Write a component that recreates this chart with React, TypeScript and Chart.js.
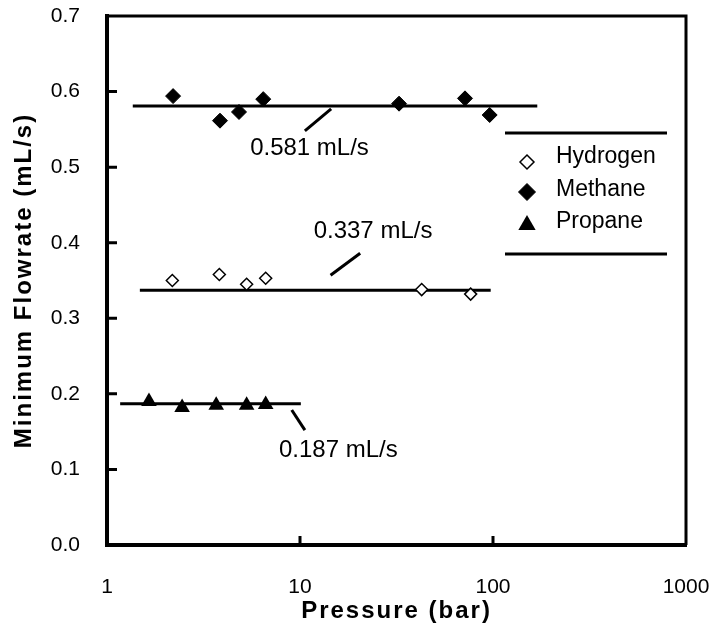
import React, { useEffect, useRef } from 'react';
import { Chart, registerables } from 'chart.js';

Chart.register(...registerables);

const FONT = '"Liberation Sans", Arial, Helvetica, sans-serif';

// ---- data ----
const xTickValues = [1, 10, 100, 1000];
const yTickValues = [0, 0.1, 0.2, 0.3, 0.4, 0.5, 0.6, 0.7];

const seriesLabels = ['Hydrogen', 'Methane', 'Propane'];

const hydrogenP = [2.18, 3.82, 5.29, 6.64, 42.7, 76.6];
const hydrogenQ = [0.35, 0.358, 0.345, 0.353, 0.338, 0.332];

const methaneP = [2.2, 3.85, 4.83, 6.45, 32.6, 71.6, 96.1];
const methaneQ = [0.594, 0.5615, 0.573, 0.59, 0.584, 0.591, 0.569];

const propaneP = [1.65, 2.45, 3.68, 5.29, 6.64];
const propaneQ = [0.19, 0.182, 0.185, 0.185, 0.186];

// mean lines (hydrogen, methane, propane)
const fitValues = [0.337, 0.581, 0.187];
const fitStart = [1.48, 1.36, 1.17];
const fitEnd = [97.3, 169.6, 10.1];

// annotations
const noteLabels = ['0.581 mL/s', '0.337 mL/s', '0.187 mL/s'];
const noteTextX = [11.2, 23.9, 15.8];
const noteTextY = [0.525, 0.4146, 0.1257];
const leaderFromX = [10.6, 14.4, 9.06];
const leaderFromY = [0.548, 0.357, 0.1786];
const leaderToX = [14.5, 20.5, 10.6];
const leaderToY = [0.577, 0.386, 0.152];

function toPoints(xs: number[], ys: number[]) {
  return xs.map((x, i) => ({ x, y: ys[i] }));
}

function drawMarker(
  ctx: CanvasRenderingContext2D,
  style: string,
  x: number,
  y: number,
  r: number,
  fill: string,
  stroke: string,
  lw: number
) {
  ctx.beginPath();
  if (style === 'triangle') {
    ctx.moveTo(x, y - r);
    ctx.lineTo(x + 0.866 * r, y + 0.5 * r);
    ctx.lineTo(x - 0.866 * r, y + 0.5 * r);
  } else {
    ctx.moveTo(x - r, y);
    ctx.lineTo(x, y - r);
    ctx.lineTo(x + r, y);
    ctx.lineTo(x, y + r);
  }
  ctx.closePath();
  ctx.fillStyle = fill;
  ctx.fill();
  if (lw > 0) {
    ctx.lineWidth = lw;
    ctx.strokeStyle = stroke;
    ctx.stroke();
  }
}

function zeroPadding(s: any) {
  s.paddingTop = 0;
  s.paddingBottom = 0;
  s.paddingLeft = 0;
  s.paddingRight = 0;
}

const spacingPlugin = {
  id: 'titleSpacing',
  beforeDraw(chart: any) {
    chart.ctx.letterSpacing = '2px';
  },
  beforeDatasetsDraw(chart: any) {
    chart.ctx.letterSpacing = '0px';
  },
};

const framePlugin = {
  id: 'frame',
  afterDraw(chart: any) {
    const { ctx, chartArea } = chart;
    const xs = chart.scales.x;
    const ys = chart.scales.y;
    ctx.save();
    ctx.strokeStyle = '#000';
    ctx.lineWidth = 3;
    ctx.beginPath();
    ctx.moveTo(chartArea.left - 2, chartArea.top);
    ctx.lineTo(chartArea.right + 1.5, chartArea.top);
    ctx.moveTo(chartArea.right, chartArea.top - 1.5);
    ctx.lineTo(chartArea.right, chartArea.bottom);
    ctx.stroke();
    // inward tick marks
    ctx.beginPath();
    yTickValues.slice(1, -1).forEach((v) => {
      const py = ys.getPixelForValue(v);
      ctx.moveTo(chartArea.left, py);
      ctx.lineTo(chartArea.left + 10, py);
    });
    xTickValues.slice(1, -1).forEach((v) => {
      const px = xs.getPixelForValue(v);
      ctx.moveTo(px, chartArea.bottom);
      ctx.lineTo(px, chartArea.bottom - 9);
    });
    ctx.stroke();
    ctx.restore();
  },
};

const notePlugin = {
  id: 'notes',
  afterDatasetsDraw(chart: any) {
    const { ctx } = chart;
    const xs = chart.scales.x;
    const ys = chart.scales.y;
    ctx.save();
    ctx.letterSpacing = '0px';
    ctx.fillStyle = '#000';
    ctx.font = `24px ${FONT}`;
    ctx.textAlign = 'center';
    ctx.textBaseline = 'middle';
    noteLabels.forEach((t, i) => {
      ctx.fillText(t, xs.getPixelForValue(noteTextX[i]), ys.getPixelForValue(noteTextY[i]));
    });
    ctx.restore();
  },
};

const legendPlugin = {
  id: 'boxLegend',
  afterDraw(chart: any) {
    const { ctx } = chart;
    ctx.save();
    ctx.letterSpacing = '0px';
    ctx.strokeStyle = '#000';
    ctx.lineWidth = 3;
    ctx.beginPath();
    ctx.moveTo(505, 133);
    ctx.lineTo(667, 133);
    ctx.moveTo(505, 254);
    ctx.lineTo(667, 254);
    ctx.stroke();
    const textY = [157, 190, 222];
    const markY = [162, 192, 225];
    const sizes = [7, 8.5, 10];
    ctx.font = `23px ${FONT}`;
    ctx.textAlign = 'left';
    ctx.textBaseline = 'middle';
    for (let i = 0; i < 3; i++) {
      const ds = chart.data.datasets[i];
      drawMarker(
        ctx,
        ds.pointStyle,
        527,
        markY[i],
        sizes[i],
        ds.pointBackgroundColor,
        ds.pointBorderColor,
        ds.pointBorderWidth
      );
      ctx.fillStyle = '#000';
      ctx.fillText(ds.label, 556, textY[i]);
    }
    ctx.restore();
  },
};

export default function App() {
  const ref = useRef<HTMLCanvasElement>(null);

  useEffect(() => {
    const canvas = ref.current;
    if (!canvas) return;

    const markerSets = [
      {
        label: seriesLabels[0],
        data: toPoints(hydrogenP, hydrogenQ),
        pointStyle: 'rectRot',
        pointRadius: 6,
        pointBackgroundColor: '#ffffff',
        pointBorderColor: '#000000',
        pointBorderWidth: 1.5,
        showLine: false,
        order: 0,
      },
      {
        label: seriesLabels[1],
        data: toPoints(methaneP, methaneQ),
        pointStyle: 'rectRot',
        pointRadius: 7.5,
        pointBackgroundColor: '#000000',
        pointBorderColor: '#000000',
        pointBorderWidth: 1,
        showLine: false,
        order: 0,
      },
      {
        label: seriesLabels[2],
        data: toPoints(propaneP, propaneQ),
        pointStyle: 'triangle',
        pointRadius: 9,
        pointBackgroundColor: '#000000',
        pointBorderColor: '#000000',
        pointBorderWidth: 0,
        showLine: false,
        order: 0,
      },
    ];

    const fitSets = fitValues.map((v, i) => ({
      label: 'mean ' + seriesLabels[i],
      data: [
        { x: fitStart[i], y: v },
        { x: fitEnd[i], y: v },
      ],
      showLine: true,
      borderColor: '#000000',
      borderWidth: 3,
      pointRadius: 0,
      order: 1,
    }));

    const leaderSets = noteLabels.map((t, i) => ({
      label: 'leader ' + t,
      data: [
        { x: leaderFromX[i], y: leaderFromY[i] },
        { x: leaderToX[i], y: leaderToY[i] },
      ],
      showLine: true,
      borderColor: '#000000',
      borderWidth: 3,
      pointRadius: 0,
      order: 1,
    }));

    const chart = new Chart(canvas, {
      type: 'scatter',
      data: { datasets: [...markerSets, ...fitSets, ...leaderSets] as any },
      options: {
        animation: false,
        responsive: false,
        events: [],
        layout: { padding: { left: 0, top: 16, right: 28, bottom: 0 } },
        plugins: {
          legend: { display: false },
          tooltip: { enabled: false },
        },
        scales: {
          x: {
            type: 'logarithmic',
            position: 'bottom',
            min: 1,
            max: 1000,
            afterBuildTicks: (s: any) => {
              s.ticks = xTickValues.map((v) => ({ value: v }));
            },
            afterFit: (s: any) => {
              s.height = 85;
              zeroPadding(s);
            },
            grid: { display: false },
            border: { display: true, color: '#000', width: 4 },
            ticks: {
              color: '#000',
              font: { family: FONT, size: 21 },
              padding: 22,
              maxRotation: 0,
              autoSkip: false,
              z: 1,
              callback: (v: any) => String(v),
            },
            title: {
              display: true,
              text: 'Pressure (bar)',
              color: '#000',
              font: { family: FONT, size: 24, weight: 'bold' },
              padding: { top: 0, bottom: 4 },
            },
          },
          y: {
            type: 'linear',
            min: 0,
            max: 0.7,
            afterBuildTicks: (s: any) => {
              s.ticks = yTickValues.map((v) => ({ value: v }));
            },
            afterFit: (s: any) => {
              s.width = 107;
              zeroPadding(s);
            },
            grid: { display: false },
            border: { display: true, color: '#000', width: 4 },
            ticks: {
              color: '#000',
              font: { family: FONT, size: 21 },
              padding: 19,
              z: 1,
              callback: (v: any) => Number(v).toFixed(1),
            },
            title: {
              display: true,
              text: 'Minimum Flowrate (mL/s)',
              color: '#000',
              font: { family: FONT, size: 24, weight: 'bold' },
              padding: { top: 10, bottom: 0 },
            },
          },
        },
      } as any,
      plugins: [spacingPlugin, framePlugin, notePlugin, legendPlugin],
    });

    return () => chart.destroy();
  }, []);

  return (
    <div
      style={{
        position: 'fixed',
        left: 0,
        top: 0,
        width: 714,
        height: 630,
        background: '#ffffff',
      }}
    >
      <canvas ref={ref} width={714} height={630} style={{ display: 'block', width: 714, height: 630 }} />
    </div>
  );
}
